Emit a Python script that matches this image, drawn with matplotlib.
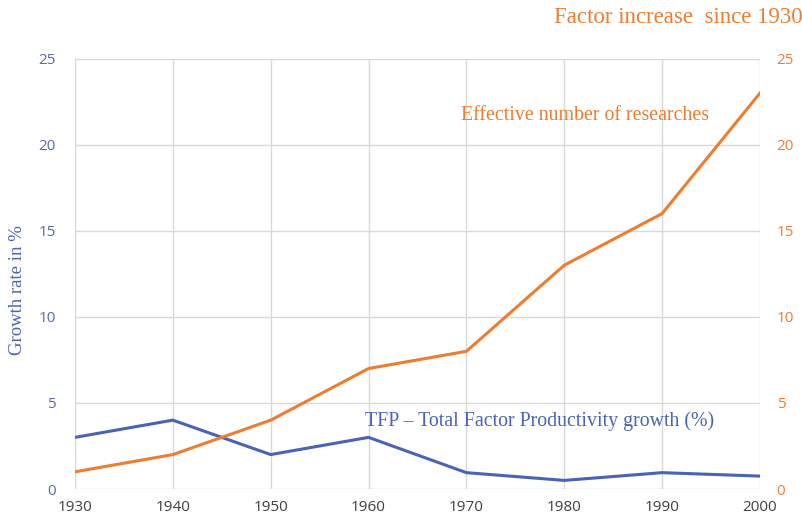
import matplotlib.pyplot as plt

years = [1930, 1940, 1950, 1960, 1970, 1980, 1990, 2000]
tfp_growth = [3, 4, 2, 3, 0.95, 0.5, 0.95, 0.75]
researchers = [1, 2, 4, 7, 8, 13, 16, 23]

blue = "#4a63b4"
orange = "#ed7d31"
serif = "Liberation Serif"

fig = plt.figure(figsize=(8.03, 5.21), dpi=100)
ax = fig.add_axes([0.0934, 0.0614, 0.853, 0.826])
ax2 = ax.twinx()

ax.plot(years, tfp_growth, color=blue, lw=2.2, zorder=3)
ax2.plot(years, researchers, color=orange, lw=2.2, zorder=3)

for a in (ax, ax2):
    a.set_xlim(1930, 2000)
    a.set_ylim(0, 25)
    a.set_yticks(range(0, 26, 5))
    for s in a.spines.values():
        s.set_visible(False)
    a.tick_params(length=0)

ax.set_xticks(years)
ax.grid(True, color="#d9d9d9", lw=1)
ax.set_axisbelow(True)
ax.tick_params(axis="x", colors="#404040", labelsize=11, pad=8)
ax.tick_params(axis="y", colors="#5a6aa8", labelsize=11, pad=14)
ax2.tick_params(axis="y", colors=orange, labelsize=11, pad=12)
for lbl in ax.get_xticklabels() + ax.get_yticklabels() + ax2.get_yticklabels():
    lbl.set_family("Open Sans")

fig.text(18 / 803, 1 - 290 / 521, "Growth rate in %", color=blue, fontsize=13.5,
         family=serif, rotation=90, ha="center", va="center")

fig.text(0.999, 0.967, "Factor increase  since 1930", color=orange, fontsize=16.5,
         family=serif, ha="right", va="center")
ax.text(1969.4, 21.7, "Effective number of researches", color=orange, fontsize=14.3,
        family=serif, ha="left", va="center")
ax.text(1959.6, 3.95, "TFP \u2013 Total Factor Productivity growth (%)", color=blue,
        fontsize=14.3, family=serif, ha="left", va="center")

fig.savefig("out.png", dpi=100)
